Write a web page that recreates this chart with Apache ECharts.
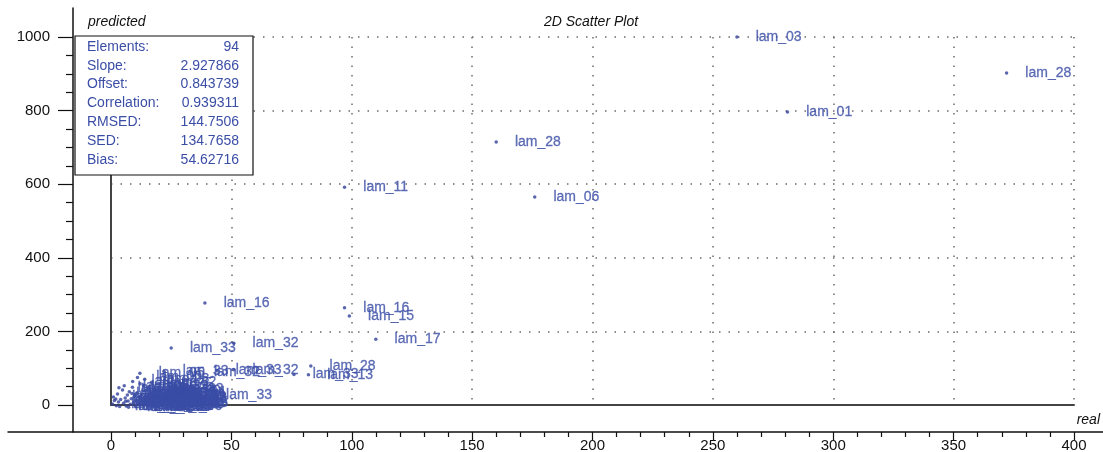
<!DOCTYPE html>
<html>
<head>
<meta charset="utf-8">
<script src="https://cdn.jsdelivr.net/npm/echarts@6/dist/echarts.min.js"></script>
<style>
  html, body { margin: 0; padding: 0; background: #fff; }
  #scatterChart { width: 1103px; height: 452px; }
</style>
</head>
<body>
<div id="scatterChart"></div>
<script>
// values
var realValues = [
  260, 372, 281, 160, 176, 97, 39, 97, 99, 110, 25, 51, 83, 82, 76, 51, 44, 12, 22, 40, 35,
  0.6, 1.4, 2.2, 1.0, 3.1, 2.7, 4.0, 3.6, 4.8, 5.2, 5.9, 6.3, 6.8, 7.1, 7.6, 8.0, 8.4, 8.9, 9.3, 9.7,
  10.2, 10.5, 10.9, 11.3, 11.8, 12.1, 12.6, 12.9, 13.3, 13.8, 14.2, 14.5, 14.9, 15.3, 15.8, 16.1, 16.6, 17.0, 17.4, 17.9,
  18.3, 18.8, 19.2, 19.6, 20.1, 20.7, 21.2, 21.8, 20.5, 21.0, 19.9, 21.6, 18.1, 20.3, 17.6, 19.4, 16.4, 21.1,
  5.5, 9.0, 11.0, 3.3, 7.3, 13.6, 16.9, 6.1, 10.0, 15.0, 18.5, 2.0, 12.4, 8.7, 14.0
];
var predictedValues = [
  1000, 902, 796, 715, 565, 592, 277, 264, 242, 179, 155, 168, 106, 82, 83, 96, 94, 86, 92, 27, 90,
  3, 12, -2, 22, 8, 30, 15, -4, 41, 5, 19, -3, 27, 11, 36, 2, 17, 48, 7, 24,
  -5, 13, 33, 4, 21, 58, 9, 29, -1, 16, 40, 6, 23, 12, 45, 1, 19, 31, 8, 26,
  14, 38, 3, 21, 11, 34, 18, 6, 28, 15, 42, 9, 24, 2, 36, -4, 31, 22,
  52, 64, 75, 47, -6, 52, 62, 10, 27, -3, 5, 16, 20, 31, 70
];
var pointNames = [
  'lam_03', 'lam_28', 'lam_01', 'lam_28', 'lam_06', 'lam_11', 'lam_16', 'lam_16', 'lam_15', 'lam_17',
  'lam_33', 'lam_32', 'lam_28', 'lam_13', 'lam_33', 'lam_32', 'lam_33', 'lam_05', 'lam_33', 'lam_33', 'lam_32',
  'lam_02', 'lam_07', 'lam_09', 'lam_04', 'lam_10', 'lam_12', 'lam_14', 'lam_18', 'lam_19', 'lam_20',
  'lam_21', 'lam_22', 'lam_23', 'lam_24', 'lam_25', 'lam_26', 'lam_27', 'lam_29', 'lam_30', 'lam_31',
  'lam_34', 'lam_35', 'lam_08', 'lam_02', 'lam_05', 'lam_07', 'lam_09', 'lam_10', 'lam_12', 'lam_14',
  'lam_18', 'lam_19', 'lam_20', 'lam_21', 'lam_22', 'lam_23', 'lam_24', 'lam_25', 'lam_26', 'lam_27',
  'lam_29', 'lam_30', 'lam_31', 'lam_34', 'lam_35', 'lam_04', 'lam_08', 'lam_13', 'lam_33', 'lam_32',
  'lam_33', 'lam_15', 'lam_17', 'lam_16', 'lam_11', 'lam_06', 'lam_01', 'lam_03',
  'lam_05', 'lam_02', 'lam_00', 'lam_09', 'lam_12', 'lam_33', 'lam_32', 'lam_20', 'lam_24', 'lam_30',
  'lam_33', 'lam_27', 'lam_31', 'lam_33', 'lam_28'
];
var xTicks = [0, 400, 50];      // min, max, step
var yTicks = [0, 1000, 200];
var statNames = ['Elements:', 'Slope:', 'Offset:', 'Correlation:', 'RMSED:', 'SED:', 'Bias:'];
var statValues = ['94', '2.927866', '0.843739', '0.939311', '144.7506', '134.7658', '54.62716'];

var chartDom = document.getElementById('scatterChart');
var scatterChart = echarts.init(chartDom);
var font = 'Arial, "Liberation Sans", sans-serif';
var blue = '#3b4ea6';

var points = [];
for (var i = 0; i < realValues.length; i++) {
  points.push({ name: pointNames[i], value: [realValues[i], predictedValues[i]] });
}

var dotted = { color: '#6a6a6a', width: 1.5, type: [1.5, 8] };

// stats box
var statsGraphic = [{
  type: 'rect', z: 100, shape: { x: 75, y: 36, width: 178, height: 139 },
  style: { fill: '#fff', stroke: '#111', lineWidth: 1.2 }
}];
for (var k = 0; k < statNames.length; k++) {
  var ty = 47 + k * 18.8;
  statsGraphic.push({ type: 'text', z: 101, x: 87, y: ty,
    style: { text: statNames[k], fill: blue, font: '14px ' + font, textVerticalAlign: 'middle' } });
  statsGraphic.push({ type: 'text', z: 101, x: 239, y: ty,
    style: { text: statValues[k], fill: blue, font: '14px ' + font, textAlign: 'right', textVerticalAlign: 'middle' } });
}
statsGraphic.push(
  { type: 'text', x: 88, y: 22, style: { text: 'predicted', fill: '#111', font: 'italic 14px ' + font, textVerticalAlign: 'middle' } },
  { type: 'text', x: 591, y: 22, style: { text: '2D Scatter Plot', fill: '#111', font: 'italic 14px ' + font, textAlign: 'center', textVerticalAlign: 'middle' } },
  { type: 'text', x: 1100, y: 420, style: { text: 'real', fill: '#111', font: 'italic 14px ' + font, textAlign: 'right', textVerticalAlign: 'middle' } }
);

var option = {
  animation: false,
  grid: [
    { left: 111, right: 29, top: 37, bottom: 47, outerBoundsMode: 'none' },   // data area
    { left: 8, right: 0, top: 8, bottom: 20, outerBoundsMode: 'none' },       // outer x line
    { left: 73, right: 0, top: 8, bottom: 20, outerBoundsMode: 'none' }       // outer y line
  ],
  xAxis: [
    {
      gridIndex: 0, type: 'value', min: xTicks[0], max: xTicks[1], interval: xTicks[2],
      position: 'bottom',
      axisLine: { show: true, onZero: false, lineStyle: { color: '#444', width: 2 } },
      axisTick: { show: false }, axisLabel: { show: false },
      splitLine: { show: true, lineStyle: dotted }
    },
    {
      gridIndex: 0, type: 'value', min: xTicks[0], max: xTicks[1], interval: xTicks[2],
      position: 'bottom', offset: 27,
      axisLine: { show: false, onZero: false },
      axisTick: { show: true, length: 8, lineStyle: { color: '#111', width: 1.2 } },
      minorTick: { show: true, splitNumber: 5, length: 5, lineStyle: { color: '#111', width: 1.2 } },
      axisLabel: { show: true, margin: 6, color: '#111', fontSize: 15, fontFamily: font },
      splitLine: { show: false }
    },
    {
      gridIndex: 1, type: 'value', min: 0, max: 1,
      axisLine: { show: true, onZero: false, lineStyle: { color: '#111', width: 1.5 } },
      axisTick: { show: false }, axisLabel: { show: false }, splitLine: { show: false }
    },
    {
      gridIndex: 2, type: 'value', min: 0, max: 1, show: false
    }
  ],
  yAxis: [
    {
      gridIndex: 0, type: 'value', min: yTicks[0], max: yTicks[1], interval: yTicks[2],
      position: 'left',
      axisLine: { show: true, onZero: false, lineStyle: { color: '#444', width: 2 } },
      axisTick: { show: false }, axisLabel: { show: false },
      splitLine: { show: true, lineStyle: dotted }
    },
    {
      gridIndex: 0, type: 'value', min: yTicks[0], max: yTicks[1], interval: yTicks[2],
      position: 'left', offset: 38,
      axisLine: { show: false, onZero: false },
      axisTick: { show: true, length: 15, lineStyle: { color: '#111', width: 1.2 } },
      minorTick: { show: true, splitNumber: 4, length: 7, lineStyle: { color: '#111', width: 1.2 } },
      axisLabel: {
        show: true, margin: 23, color: '#111', fontSize: 15, fontFamily: font,
        formatter: function (v) { return String(v); }
      },
      splitLine: { show: false }
    },
    {
      gridIndex: 1, type: 'value', min: 0, max: 1, show: false
    },
    {
      gridIndex: 2, type: 'value', min: 0, max: 1,
      axisLine: { show: true, onZero: false, lineStyle: { color: '#111', width: 1.5 } },
      axisTick: { show: false }, axisLabel: { show: false }, splitLine: { show: false }
    }
  ],
  graphic: statsGraphic,
  series: [
    {
      type: 'scatter', xAxisIndex: 0, yAxisIndex: 0,
      clip: false,
      symbol: 'circle', symbolSize: 3.5,
      itemStyle: { color: '#2f3f9a' },
      label: {
        show: true, position: 'right', distance: 17, formatter: '{b}',
        color: blue, fontSize: 14, fontFamily: font,
        textBorderColor: blue, textBorderWidth: 0.3
      },
      data: points
    }
  ]
};

scatterChart.setOption(option);
</script>
</body>
</html>
